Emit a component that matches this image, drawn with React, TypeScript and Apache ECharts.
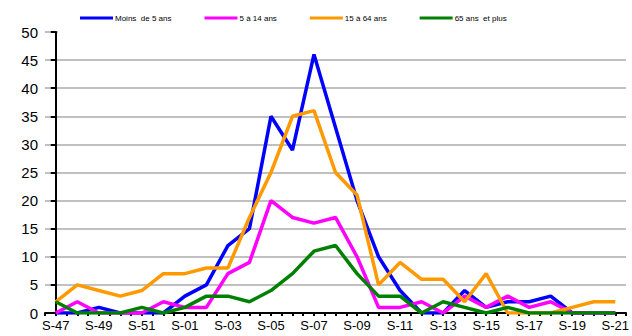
import React, { useEffect, useRef } from "react";
import * as echarts from "echarts";

// Semaines épidémiologiques
const weeks = [
  "S-47", "S-48", "S-49", "S-50", "S-51", "S-52",
  "S-01", "S-02", "S-03", "S-04", "S-05", "S-06", "S-07", "S-08", "S-09",
  "S-10", "S-11", "S-12", "S-13", "S-14", "S-15", "S-16", "S-17", "S-18",
  "S-19", "S-20", "S-21",
];

const moins5 = [0, 0, 1, 0, 0, 0, 3, 5, 12, 15, 35, 29, 46, 33, 20, 10, 4, 0, 0, 4, 1, 2, 2, 3, 0, 0, 0];
const de5a14 = [0, 2, 0, 0, 0, 2, 1, 1, 7, 9, 20, 17, 16, 17, 10, 1, 1, 2, 0, 3, 1, 3, 1, 2, 0, 0, 0];
const de15a64 = [2, 5, 4, 3, 4, 7, 7, 8, 8, 17, 25, 35, 36, 25, 21, 5, 9, 6, 6, 2, 7, 0, 0, 0, 1, 2, 2];
const plus65 = [2, 0, 0, 0, 1, 0, 1, 3, 3, 2, 4, 7, 11, 12, 7, 3, 3, 0, 2, 1, 0, 1, 0, 0, 0, 0, 0];

const seriesDefs = [
  { name: "Moins  de 5 ans", values: moins5, color: "#0000ff" },
  { name: "5 à 14 ans", values: de5a14, color: "#ff00ff" },
  { name: "15 à 64 ans", values: de15a64, color: "#ff9900" },
  { name: "65 ans  et plus", values: plus65, color: "#008000" },
];

const FONT = "'Liberation Sans', Arial, sans-serif";

export default function App() {
  const ref = useRef<HTMLDivElement>(null);

  useEffect(() => {
    if (!ref.current) return;
    const chart = echarts.init(ref.current, undefined, { renderer: "svg" });

    chart.setOption({
      animation: false,
      backgroundColor: "#ffffff",
      legend: {
        left: 75,
        top: 9,
        icon: "rect",
        itemWidth: 33,
        itemHeight: 3,
        itemGap: 33,
        z: 10,
        textStyle: {
          fontFamily: FONT,
          fontSize: 8,
          color: "#000",
          padding: [0, 0, 0, -3],
        },
        data: seriesDefs.map((s) => s.name),
      },
      graphic: [
        {
          type: "rect",
          z: 3,
          shape: { x: 58, y: 28, width: 580, height: 8 },
          style: { fill: "#ffffff" },
        },
      ],
      grid: { left: 45, right: 2, top: 32, bottom: 23 },
      xAxis: {
        type: "value",
        min: -0.5,
        max: weeks.length - 0.5,
        interval: 0.5,
        axisLine: { show: true, lineStyle: { color: "#000", width: 2 } },
        axisTick: { show: true, length: 3, lineStyle: { color: "#000", width: 2 } },
        splitLine: { show: false },
        axisLabel: {
          fontFamily: FONT,
          fontSize: 13,
          color: "#000",
          margin: 6,
          showMinLabel: true,
          showMaxLabel: true,
          formatter: (v: number) =>
            Number.isInteger(v) && v >= 0 && v % 2 === 0 ? weeks[v] : "",
        },
      },
      yAxis: {
        type: "value",
        min: 0,
        max: 50,
        interval: 5,
        axisLine: { show: true, lineStyle: { color: "#000", width: 2 } },
        axisTick: { show: true, length: 5, lineStyle: { color: "#000", width: 2 } },
        splitLine: { show: true, lineStyle: { color: "#c0c0c0", width: 2 } },
        axisLabel: {
          fontFamily: FONT,
          fontSize: 15,
          color: "#000",
          margin: 7,
        },
      },
      series: seriesDefs.map((s) => ({
        name: s.name,
        type: "line",
        data: s.values.map((v, i) => [i, v]),
        showSymbol: false,
        symbol: "none",
        color: s.color,
        lineStyle: { color: s.color, width: 3.5 },
        z: 2,
      })),
    });

    return () => chart.dispose();
  }, []);

  return <div ref={ref} style={{ width: 632, height: 336, position: "absolute", left: 0, top: 0 }} />;
}
